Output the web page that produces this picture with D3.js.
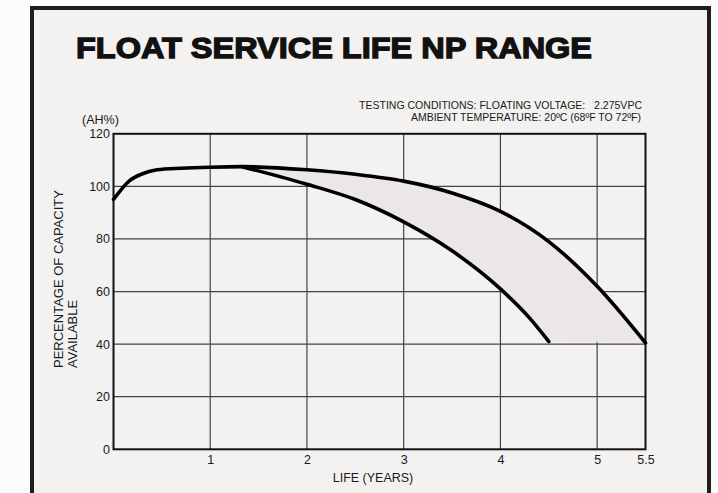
<!DOCTYPE html>
<html>
<head>
<meta charset="utf-8">
<script src="https://cdn.jsdelivr.net/npm/d3@7"></script>
<style>
  html, body { margin: 0; padding: 0; background: #fbfbfb; }
  svg { display: block; }
  text { font-family: "Liberation Sans", Arial, sans-serif; fill: #1a1a1a; }
</style>
</head>
<body>
<div id="chart-area"></div>
<script>
// axis ticks
var yearTicks = [1, 2, 3, 4, 5, 5.5];
var pctTicks = [0, 20, 40, 60, 80, 100, 120];
var yearGrid = [1, 2, 3, 4, 5];
var pctGrid = [20, 40, 60, 80, 100];

// upper edge of the range (longest life)
var upperYears = [0, 0.17, 0.3, 0.45, 0.7, 1.0, 1.33, 2, 2.5, 3, 3.5, 4, 4.5, 5, 5.5];
var upperPct   = [95, 102.3, 104.8, 106.3, 106.9, 107.3, 107.5, 106.3, 104.6, 102, 97.5, 90.5, 79, 62, 40.5];

// lower edge of the range (shortest life)
var lowerYears = [1.33, 2, 2.5, 3, 3.5, 4, 4.3, 4.5];
var lowerPct   = [107.5, 100.8, 95, 86.5, 75.5, 61, 50, 41];

var width = 718, height = 493;

var svg = d3.select("#chart-area")
  .append("svg")
  .attr("width", width)
  .attr("height", height);

// card frame
svg.append("rect")
  .attr("x", 32).attr("y", 8)
  .attr("width", 677).attr("height", 520)
  .attr("fill", "#f3f2f0")
  .attr("stroke", "#1e1e1e")
  .attr("stroke-width", 4);

// scales
var x = d3.scaleLinear().domain([0, 5.5]).range([113.5, 645.5]);
var y = d3.scaleLinear().domain([0, 120]).range([449.3, 133.8]);

// title
svg.append("text")
  .attr("x", 76).attr("y", 58)
  .attr("textLength", 516)
  .attr("lengthAdjust", "spacingAndGlyphs")
  .style("font-size", "29px")
  .style("font-weight", "bold")
  .style("stroke", "#111")
  .style("stroke-width", 1.3)
  .style("fill", "#111")
  .text("FLOAT SERVICE LIFE NP RANGE");

// test conditions
svg.append("text")
  .attr("x", 359).attr("y", 109)
  .attr("textLength", 283)
  .attr("lengthAdjust", "spacingAndGlyphs")
  .style("font-size", "10.5px")
  .style("white-space", "pre")
  .text("TESTING CONDITIONS: FLOATING VOLTAGE:   2.275VPC");

svg.append("text")
  .attr("x", 411).attr("y", 121)
  .attr("textLength", 230)
  .attr("lengthAdjust", "spacingAndGlyphs")
  .style("font-size", "10.5px")
  .text("AMBIENT TEMPERATURE: 20ºC (68ºF TO 72ºF)");

// unit label
svg.append("text")
  .attr("x", 82).attr("y", 124)
  .style("font-size", "12.5px")
  .text("(AH%)");

// gridlines
var grid = svg.append("g").attr("stroke", "#444").attr("stroke-width", 1.2);
grid.selectAll(".vgrid")
  .data(yearGrid)
  .enter()
  .append("line")
  .attr("class", "vgrid")
  .attr("x1", function (d) { return x(d); })
  .attr("x2", function (d) { return x(d); })
  .attr("y1", y(120)).attr("y2", y(0));
grid.selectAll(".hgrid")
  .data(pctGrid)
  .enter()
  .append("line")
  .attr("class", "hgrid")
  .attr("y1", function (d) { return y(d); })
  .attr("y2", function (d) { return y(d); })
  .attr("x1", x(0)).attr("x2", x(5.5));

var upper = upperYears.map(function (d, i) { return [d, upperPct[i]]; });
var lower = lowerYears.map(function (d, i) { return [d, lowerPct[i]]; });

var line = d3.line()
  .x(function (d) { return x(d[0]); })
  .y(function (d) { return y(d[1]); })
  .curve(d3.curveMonotoneX);

// shaded band between the two curves
var upperSeg = upper.filter(function (d) { return d[0] >= lowerYears[0]; });
var lowerRev = lower.slice().reverse();
var bandPath = line(upperSeg) + "L" + line(lowerRev).slice(1) + "Z";
svg.append("path")
  .attr("d", bandPath)
  .attr("fill", "#ebe7e6")
  .attr("stroke", "none");

// plot border
svg.append("rect")
  .attr("x", x(0)).attr("y", y(120))
  .attr("width", x(5.5) - x(0))
  .attr("height", y(0) - y(120))
  .attr("fill", "none")
  .attr("stroke", "#111")
  .attr("stroke-width", 2);

// curves
svg.append("path")
  .attr("d", line(upper))
  .attr("fill", "none")
  .attr("stroke", "#000")
  .attr("stroke-width", 3.6)
  .attr("stroke-linecap", "round");

svg.append("path")
  .attr("d", line(lower))
  .attr("fill", "none")
  .attr("stroke", "#000")
  .attr("stroke-width", 3.6)
  .attr("stroke-linecap", "round");

// axes (labels only)
var xAxis = svg.append("g")
  .attr("transform", "translate(0," + y(0) + ")")
  .call(d3.axisBottom(x).tickValues(yearTicks).tickSize(0).tickPadding(6)
    .tickFormat(function (d) { return d; }));
xAxis.select(".domain").remove();
xAxis.selectAll("text")
  .style("font-size", "12.5px")
  .style("font-family", "'Liberation Sans', Arial, sans-serif")
  .attr("fill", "#1a1a1a");

var yAxis = svg.append("g")
  .attr("transform", "translate(" + x(0) + ",0)")
  .call(d3.axisLeft(y).tickValues(pctTicks).tickSize(0).tickPadding(3.5));
yAxis.select(".domain").remove();
yAxis.selectAll("text")
  .style("font-size", "12.5px")
  .style("font-family", "'Liberation Sans', Arial, sans-serif")
  .attr("fill", "#1a1a1a");

// x axis label
svg.append("text")
  .attr("x", 373).attr("y", 482)
  .attr("text-anchor", "middle")
  .style("font-size", "12.5px")
  .text("LIFE (YEARS)");

// y axis label
svg.append("text")
  .attr("transform", "translate(63,368) rotate(-90)")
  .style("font-size", "13px")
  .text("PERCENTAGE OF CAPACITY");
svg.append("text")
  .attr("transform", "translate(76.5,368) rotate(-90)")
  .style("font-size", "13px")
  .text("AVAILABLE");
</script>
</body>
</html>
